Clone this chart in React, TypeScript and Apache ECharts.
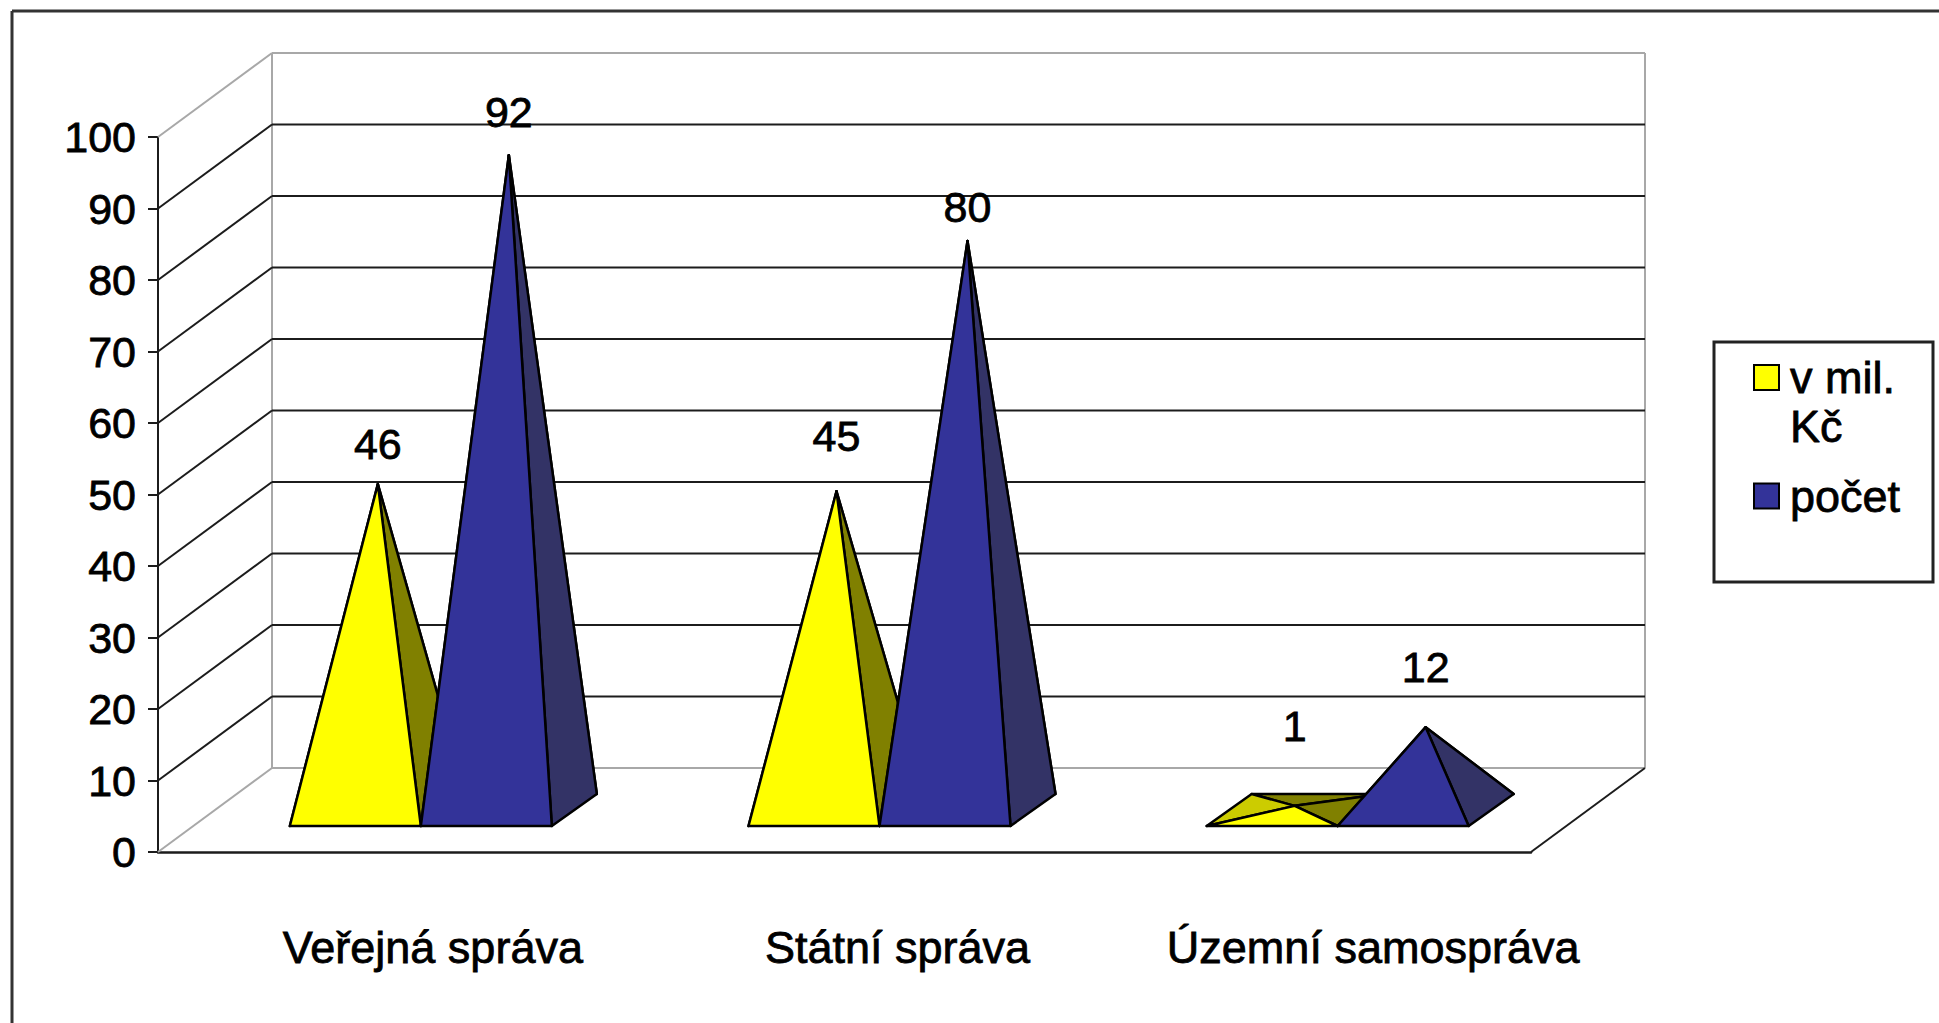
import React, { useEffect, useRef } from "react";
import * as echarts from "echarts";

const categories = ["Veřejná správa", "Státní správa", "Územní samospráva"];
const milKc = [46, 45, 1];
const pocet = [92, 80, 12];
const yTicks = [0, 10, 20, 30, 40, 50, 60, 70, 80, 90, 100];
const seriesNames = ["v mil. Kč", "počet"];

// layout of the imitated 3-D scene, in pixels
const WALL_DX = 114;
const WALL_DY = 84;
const BAR_W = 131;
const BAR_DX = 45;
const BAR_DY = 32;
const BASE_LIFT = 26;
const APEX_DROP = 3;
const GROUP_SHIFT = [34, 35, 35.5];
const LABEL_LIFT_MIL = [40.5, 55.5, 80];
const LABEL_LIFT_POCET = [43, 34, 60];
const CAT_LABEL_PAD = [92, 106, 142];
const FONT = "'Liberation Sans', Arial, sans-serif";
const FONT_SIZE = 43;
const CAT_FONT_SIZE = 45;
const LEGEND_FONT_SIZE = 45;
const TEXT_BOLD = { textBorderColor: "#000", textBorderWidth: 0.8 };
const INK = "#1c1c1c";
const WALL_GREY = "#a8a8a8";

type Palette = { front: string; right: string; left: string; back: string };
const YELLOW: Palette = { front: "#ffff00", right: "#808000", left: "#cccc00", back: "#808000" };
const BLUE: Palette = { front: "#333399", right: "#333366", left: "#29297a", back: "#29295c" };

function pyramidSeries(name: string, values: number[], pal: Palette, slot: number, lifts: number[]) {
  return {
    type: "custom",
    name,
    clip: false,
    silent: true,
    z: 3 + slot,
    itemStyle: { color: pal.front, borderColor: "#000", borderWidth: 2 },
    encode: { x: 0, y: 1 },
    data: values.map((v, i) => [i, v]),
    renderItem: (params: any, api: any) => {
      const i = api.value(0);
      const v = api.value(1);
      const zero = api.coord([i, 0]);
      const top = api.coord([i, v]);
      const left = zero[0] + GROUP_SHIFT[i] - BAR_W + slot * BAR_W;
      const right = left + BAR_W;
      const base = zero[1] - BASE_LIFT;
      const fl: number[] = [left, base];
      const fr: number[] = [right, base];
      const bl: number[] = [left + BAR_DX, base - BAR_DY];
      const br: number[] = [right + BAR_DX, base - BAR_DY];
      const apex: number[] = [(left + right + BAR_DX) / 2, top[1] - BASE_LIFT - BAR_DY / 2 + APEX_DROP];
      const face = (pts: number[][], fill: string) => ({
        type: "polygon",
        shape: { points: pts },
        style: { fill, stroke: "#000", lineWidth: 2.5, lineJoin: "round" },
      });
      return {
        type: "group",
        children: [
          face([bl, br, apex], pal.back),
          face([fl, bl, apex], pal.left),
          face([fr, br, apex], pal.right),
          face([fl, fr, apex], pal.front),
          {
            type: "text",
            style: {
              text: String(v),
              x: apex[0],
              y: apex[1] - lifts[i],
              align: "center",
              verticalAlign: "middle",
              fontFamily: FONT,
              fontSize: FONT_SIZE,
              fill: "#000",
              stroke: "#000",
              lineWidth: 0.8,
            },
          },
        ],
      };
    },
  };
}

const wallSeries = {
  type: "custom",
  name: "walls",
  clip: false,
  silent: true,
  z: 1,
  encode: { x: 0, y: 1 },
  data: yTicks.map((t) => [0, t]),
  renderItem: (params: any, api: any) => {
    const t = api.value(1);
    const r = params.coordSys;
    const y = api.coord([0, t])[1];
    const x0 = r.x;
    const x1 = r.x + r.width;
    const grey = t === yTicks[0] || t === yTicks[yTicks.length - 1];
    const colour = grey ? WALL_GREY : INK;
    const line = (a: number[], b: number[], c: string) => ({
      type: "line",
      shape: { x1: a[0], y1: a[1], x2: b[0], y2: b[1] },
      style: { stroke: c, lineWidth: 2 },
    });
    const children: any[] = [
      line([x0, y], [x0 + WALL_DX, y - WALL_DY], colour),
      line([x0 + WALL_DX, y - WALL_DY], [x1 + WALL_DX, y - WALL_DY], colour),
    ];
    if (t === yTicks[0]) {
      const top = r.y - WALL_DY;
      const bottom = r.y + r.height - WALL_DY;
      children.push(line([x0 + WALL_DX, top], [x0 + WALL_DX, bottom], WALL_GREY));
      children.push(line([x1 + WALL_DX, top], [x1 + WALL_DX, bottom], WALL_GREY));
      children.push(line([x1, y], [x1 + WALL_DX, y - WALL_DY], INK));
    }
    return { type: "group", children };
  },
};

export default function App() {
  const ref = useRef<HTMLDivElement>(null);
  useEffect(() => {
    if (!ref.current) return;
    const chart = echarts.init(ref.current, undefined, { renderer: "svg" });
    const rich: Record<string, any> = {};
    CAT_LABEL_PAD.forEach((p, i) => {
      rich["c" + i] = { padding: [0, 0, 0, p], fontFamily: FONT, fontSize: CAT_FONT_SIZE, color: "#000", ...TEXT_BOLD };
    });
    chart.setOption({
      animation: false,
      backgroundColor: "#ffffff",
      textStyle: { fontFamily: FONT },
      grid: { left: 158, top: 137, width: 1373, height: 715, containLabel: false },
      xAxis: {
        type: "category",
        data: categories,
        axisLine: { show: true, lineStyle: { color: INK, width: 2.5 } },
        axisTick: { show: false },
        splitLine: { show: false },
        axisLabel: {
          interval: 0,
          margin: 73,
          hideOverlap: false,
          fontFamily: FONT,
          fontSize: CAT_FONT_SIZE,
          color: "#000",
          rich,
          formatter: (value: string, index: number) => `{c${index}|${value}}`,
        },
      },
      yAxis: {
        type: "value",
        min: 0,
        max: 100,
        interval: 10,
        axisLine: { show: true, lineStyle: { color: INK, width: 2 } },
        axisTick: { show: true, length: 10, lineStyle: { color: INK, width: 2 } },
        splitLine: { show: false },
        axisLabel: { margin: 22, fontFamily: FONT, fontSize: FONT_SIZE, color: "#000", ...TEXT_BOLD },
      },
      legend: {
        left: 1753,
        top: 304,
        orient: "vertical",
        itemWidth: 25,
        itemHeight: 25,
        itemGap: 20.5,
        padding: 0,
        icon: "rect",
        selectedMode: false,
        textStyle: { fontFamily: FONT, fontSize: LEGEND_FONT_SIZE, color: "#000", lineHeight: 49, padding: [0, 0, 0, 6], ...TEXT_BOLD },
        data: seriesNames,
        formatter: (name: string) => (name.includes(". ") ? "\n" + name.replace(". ", ".\n") : name),
      },
      graphic: [
        { type: "line", shape: { x1: 12, y1: 11, x2: 1939, y2: 11 }, style: { stroke: "#333", lineWidth: 3 }, silent: true },
        { type: "line", shape: { x1: 12, y1: 11, x2: 12, y2: 1023 }, style: { stroke: "#333", lineWidth: 3 }, silent: true },
        { type: "rect", shape: { x: 1714, y: 342, width: 219, height: 240 }, style: { fill: "#fff", stroke: "#222", lineWidth: 3 }, silent: true, z: -1 },
      ],
      series: [
        wallSeries,
        pyramidSeries(seriesNames[0], milKc, YELLOW, 0, LABEL_LIFT_MIL),
        pyramidSeries(seriesNames[1], pocet, BLUE, 1, LABEL_LIFT_POCET),
      ],
    });
    return () => chart.dispose();
  }, []);
  return <div ref={ref} style={{ position: "absolute", left: 0, top: 0, width: 1939, height: 1023 }} />;
}
